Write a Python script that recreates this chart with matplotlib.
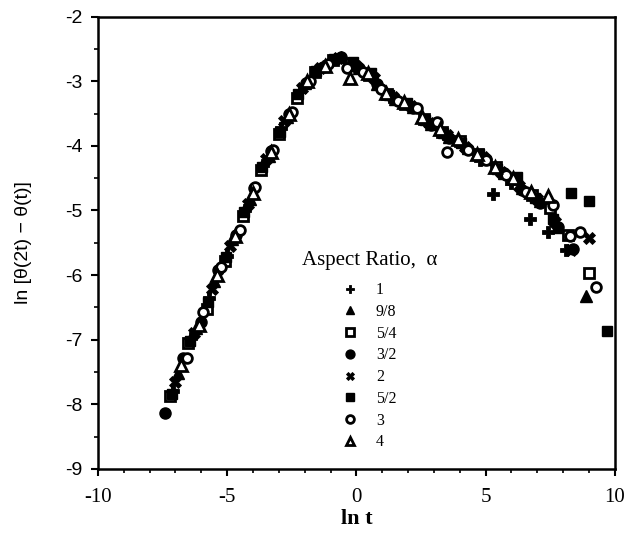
import matplotlib
matplotlib.use("Agg")
import matplotlib.pyplot as plt
from matplotlib.ticker import MultipleLocator

plt.rcParams["axes.unicode_minus"] = False

# aspect ratio series: ln t vs ln[theta(2t) - theta(t)]
labels = ["1", "9/8", "5/4", "3/2", "2", "5/2", "3", "4"]

x_1 = [-7.1, -6.4, -5.7, -5.0, -4.3, -3.6, -2.9, -2.2, -1.5, -0.8, -0.1, 0.6, 1.3,
       2.0, 2.7, 3.4, 4.1, 4.8, 5.3, 6.0, 6.7, 7.4, 8.1]
y_1 = [-7.80, -6.98, -6.35, -5.70, -5.00, -4.30, -3.72, -3.15, -2.82, -2.66, -2.73,
       -2.92, -3.24, -3.36, -3.62, -3.82, -3.98, -4.22, -4.75, -4.58, -5.14, -5.34, -5.62]

x_98 = [-6.9, -6.2, -5.5, -4.8, -4.1, -3.4, -2.7, -2.0, -1.3, -0.6, 0.1, 0.8, 1.5,
        2.2, 2.9, 3.6, 4.3, 5.0, 5.7, 6.4, 7.1, 7.8, 8.9]
y_98 = [-7.52, -6.82, -6.10, -5.45, -4.82, -4.15, -3.55, -3.02, -2.76, -2.62, -2.80,
        -3.05, -3.28, -3.40, -3.66, -3.87, -4.04, -4.20, -4.42, -4.66, -4.85, -5.25, -6.33]

x_54 = [-7.2, -6.5, -5.8, -5.1, -4.4, -3.7, -3.0, -2.3, -1.6, -0.9, -0.2, 0.5, 1.2,
        1.9, 2.6, 3.3, 4.0, 4.7, 5.4, 6.1, 6.8, 7.5, 8.2, 9.0]
y_54 = [-7.88, -7.06, -6.52, -5.78, -5.08, -4.38, -3.82, -3.26, -2.86, -2.67, -2.72,
        -2.90, -3.20, -3.35, -3.58, -3.78, -3.93, -4.13, -4.33, -4.52, -4.76, -4.96,
        -5.38, -5.97]

x_32 = [-7.4, -6.7, -6.0, -5.35, -4.65, -3.95, -3.3, -2.6, -1.95, -1.3, -0.6, 0.1,
        0.8, 1.5, 2.2, 2.9, 3.6, 4.3, 5.0, 5.7, 6.4, 7.1, 7.8, 8.4]
y_32 = [-8.13, -7.28, -6.72, -5.93, -5.38, -4.66, -4.08, -3.50, -3.02, -2.78, -2.62,
        -2.80, -3.05, -3.27, -3.42, -3.67, -3.88, -4.05, -4.20, -4.42, -4.68, -4.88,
        -5.25, -5.60]

x_2 = [-7.0, -6.3, -5.6, -4.9, -4.2, -3.5, -2.8, -2.1, -1.4, -0.7, 0.0, 0.7, 1.4,
       2.1, 2.8, 3.5, 4.2, 4.9, 5.6, 6.3, 7.0, 7.7, 8.3, 9.0]
y_2 = [-7.65, -6.90, -6.22, -5.55, -4.90, -4.20, -3.62, -3.10, -2.80, -2.64, -2.76,
       -2.95, -3.25, -3.38, -3.64, -3.84, -4.02, -4.18, -4.40, -4.62, -4.82, -5.18,
       -5.62, -5.42]

x_52 = [-7.15, -6.45, -5.75, -5.05, -4.35, -3.65, -2.95, -2.25, -1.55, -0.85, -0.15,
        0.55, 1.25, 1.95, 2.65, 3.35, 4.05, 4.75, 5.45, 6.2, 6.9, 7.6, 8.3, 9.0, 9.7]
y_52 = [-7.84, -7.02, -6.42, -5.72, -5.02, -4.32, -3.78, -3.20, -2.84, -2.66, -2.70,
        -2.88, -3.22, -3.34, -3.60, -3.80, -3.96, -4.12, -4.36, -4.48, -4.80, -5.14,
        -4.73, -4.86, -6.87]

x_3 = [-6.57, -5.93, -5.22, -4.5, -3.93, -3.23, -2.51, -1.8, -1.1, -0.38, 0.25, 0.95,
       1.6, 2.33, 3.1, 3.5, 4.3, 5.0, 5.8, 6.58, 7.6, 8.26, 8.65, 9.29]
y_3 = [-7.28, -6.58, -5.87, -5.30, -4.63, -4.06, -3.47, -3.00, -2.74, -2.79, -2.85,
       -3.12, -3.30, -3.41, -3.63, -4.10, -4.06, -4.22, -4.45, -4.71, -4.91, -5.40,
       -5.33, -6.18]

x_4 = [-6.8, -6.1, -5.4, -4.7, -4.0, -3.3, -2.6, -1.9, -1.2, -0.25, 0.45, 1.15, 1.85,
       2.55, 3.25, 3.95, 4.65, 5.35, 6.05, 6.75, 7.41]
y_4 = [-7.40, -6.78, -6.00, -5.40, -4.73, -4.10, -3.50, -3.00, -2.76, -2.95, -2.88,
       -3.18, -3.32, -3.55, -3.74, -3.90, -4.12, -4.32, -4.50, -4.72, -4.78]

xs = [x_1, x_98, x_54, x_32, x_2, x_52, x_3, x_4]
ys = [y_1, y_98, y_54, y_32, y_2, y_52, y_3, y_4]

# marker, size, face colour, edge width
styles = [
    ("P", 8, "black", 0.6),
    ("^", 8, "black", 1.0),
    ("s", 7, "white", 2.0),
    ("o", 8, "black", 1.0),
    ("X", 8, "black", 0.6),
    ("s", 7.5, "black", 1.0),
    ("o", 7, "white", 2.0),
    ("^", 8, "white", 2.0),
]

fig = plt.figure(figsize=(6.28, 5.37), dpi=100)
ax = fig.add_axes([0.156, 0.127, 0.823, 0.842])

for x, y, lab, (m, ms, fc, mew) in zip(xs, ys, labels, styles):
    ax.plot(x, y, linestyle="none", marker=m, markersize=ms, markerfacecolor=fc,
            markeredgecolor="black", markeredgewidth=mew, label=lab)

ax.set_xlim(-10, 10)
ax.set_ylim(-9, -2)
ax.xaxis.set_major_locator(MultipleLocator(5))
ax.xaxis.set_minor_locator(MultipleLocator(1))
ax.yaxis.set_major_locator(MultipleLocator(1))
ax.yaxis.set_minor_locator(MultipleLocator(0.5))

for s in ax.spines.values():
    s.set_linewidth(1.8)
ax.tick_params(which="major", direction="out", length=5, width=1.5)
ax.tick_params(which="minor", direction="out", length=3, width=1.2)
ax.tick_params(axis="x", pad=9)
ax.tick_params(axis="y", pad=6)

for t in ax.get_xticklabels():
    t.set_fontfamily("Liberation Serif")
    t.set_fontsize(15)
for t in ax.get_yticklabels():
    t.set_fontfamily("Liberation Sans")
    t.set_fontsize(14)

ax.set_xlabel("ln t", fontfamily="Liberation Serif", fontweight="bold",
              fontsize=16, labelpad=1)
ax.set_ylabel("ln [θ(2t) − θ(t)]", fontfamily="Liberation Sans", fontsize=14,
              labelpad=24)

leg = ax.legend(loc="upper center", bbox_to_anchor=(0.525, 0.5), frameon=False,
                title="Aspect Ratio,  α", handlelength=1.0, handletextpad=1.1,
                labelspacing=0.36, borderpad=0.0, markerscale=0.8,
                prop={"family": "Liberation Serif", "size": 11.5},
                title_fontproperties={"family": "Liberation Serif", "size": 15})
leg._legend_box.sep = 9

fig.savefig("out.png", dpi=100, facecolor="white")
